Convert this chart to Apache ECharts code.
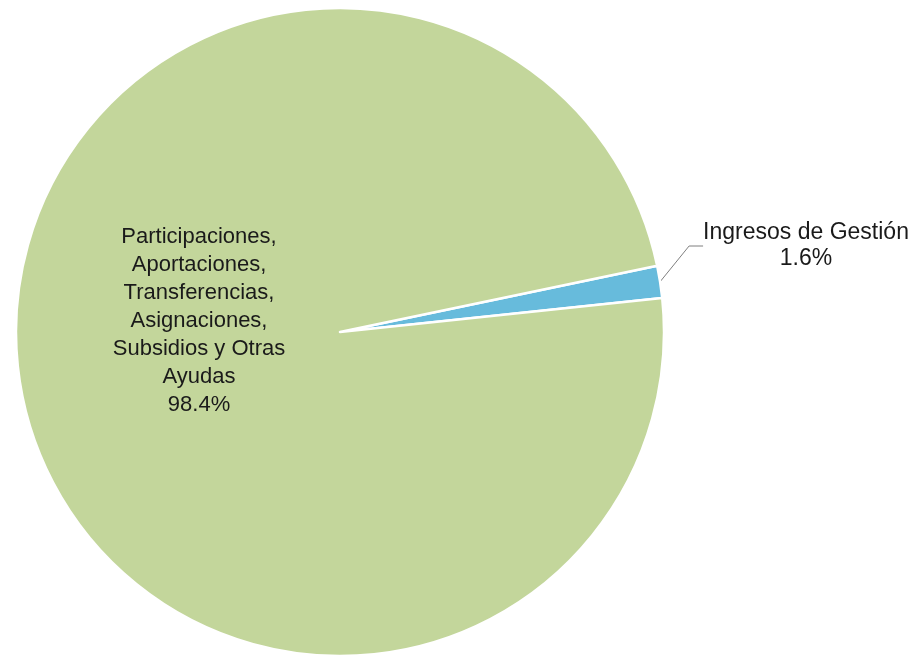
<!DOCTYPE html>
<html>
<head>
<meta charset="utf-8">
<script src="https://cdn.jsdelivr.net/npm/echarts@6/dist/echarts.min.js"></script>
<style>
html,body{margin:0;padding:0;background:#fff;}
#chart{width:918px;height:658px;}
</style>
</head>
<body>
<div id="chart"></div>
<script>
// Data
const categories = [
  'Ingresos de Gestión',
  'Participaciones,\nAportaciones,\nTransferencias,\nAsignaciones,\nSubsidios y Otras\nAyudas'
];
const values = [1.6, 98.4];
const colors = ['#67bbdc', '#c3d69b'];

const chart = echarts.init(document.getElementById('chart'), null, {renderer: 'canvas'});

const seriesData = categories.map((name, i) => ({
  name: name,
  value: values[i],
  itemStyle: {color: colors[i]},
  label: i === 0
    ? {position: 'outside', lineHeight: 26, fontSize: 23}
    : {position: 'inside', lineHeight: 28, fontSize: 22},
  labelLine: {show: i === 0}
}));

chart.setOption({
  backgroundColor: '#ffffff',
  animation: false,
  series: [{
    type: 'pie',
    center: [340, 332],
    radius: 324,
    startAngle: 11.8,
    clockwise: true,
    avoidLabelOverlap: false,
    itemStyle: {borderColor: '#ffffff', borderWidth: 2.5},
    label: {
      show: true,
      color: '#1a1a1a',
      fontFamily: '"Liberation Sans", Arial, sans-serif',
      fontSize: 23,
      align: 'center',
      formatter: p => p.name + '\n' + p.value.toFixed(1) + '%'
    },
    labelLine: {
      show: true,
      length: 10,
      length2: 14,
      smooth: false,
      lineStyle: {color: '#7f7f7f', width: 1}
    },
    labelLayout: function (params) {
      if (params.dataIndex === 0) {
        return {x: 806, y: 246, align: 'center', verticalAlign: 'middle'};
      }
      return {x: 199, y: 321, align: 'center', verticalAlign: 'middle'};
    },
    data: seriesData
  }]
});
</script>
</body>
</html>
